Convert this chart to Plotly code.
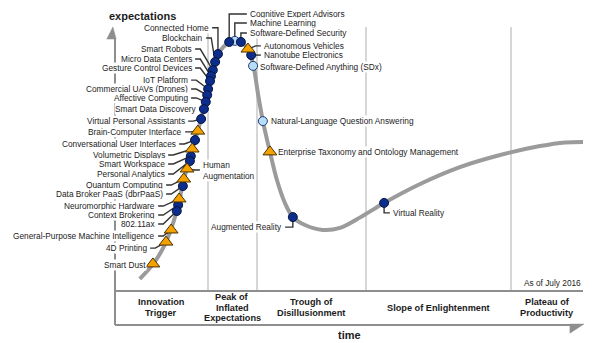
import plotly.graph_objects as go

# ---------------- data (time axis 0-100, expectations axis 0-100) ----------------
curve_time = [5.3, 8.3, 10.9, 13.2, 14.7, 16.5, 18.4, 20.3, 22.0, 24.4, 25.6, 26.9, 28.4,
              29.5, 30.6, 31.6, 33.1, 34.6, 36.3, 38.0, 40.6, 44.4, 48.1, 52.4, 57.5, 65.2,
              73.7, 82.3, 90.8, 96.2, 100.0]
curve_expect = [4.6, 10.6, 18.6, 30.4, 42.2, 53.8, 65.4, 79.8, 90.1, 94.7, 95.1, 94.7, 92.0,
                86.3, 74.5, 64.6, 52.9, 42.2, 33.5, 28.1, 25.1, 23.2, 24.0, 28.0, 33.5, 40.7,
                47.1, 51.7, 55.1, 56.5, 56.7]

tech_names = ["Connected Home", "Blockchain", "Smart Robots", "Micro Data Centers",
              "Gesture Control Devices", "IoT Platform", "Commercial UAVs (Drones)",
              "Affective Computing", "Smart Data Discovery", "Virtual Personal Assistants",
              "Brain-Computer Interface", "Conversational User Interfaces", "Volumetric Displays",
              "Smart Workspace", "Personal Analytics", "Human Augmentation", "Quantum Computing",
              "Data Broker PaaS (dbrPaaS)", "Neuromorphic Hardware", "Context Brokering",
              "802.11ax", "General-Purpose Machine Intelligence", "4D Printing", "Smart Dust",
              "Cognitive Expert Advisors", "Machine Learning", "Software-Defined Security",
              "Autonomous Vehicles", "Nanotube Electronics", "Software-Defined Anything (SDx)",
              "Natural-Language Question Answering",
              "Enterprise Taxonomy and Ontology Management", "Augmented Reality",
              "Virtual Reality"]
tech_time = [22.0, 21.4, 20.9, 20.5, 20.3, 19.9, 19.7, 19.4, 19.0, 18.4, 17.7, 17.1, 16.5,
             16.2, 16.0, 15.4, 14.7, 14.5, 13.7, 13.5, 13.2, 12.0, 10.9, 8.1, 24.4, 25.6,
             26.9, 28.4, 29.1, 29.5, 31.6, 33.1, 38.0, 57.5]
tech_expect = [90.1, 87.1, 84.0, 81.7, 79.8, 76.8, 74.5, 71.9, 69.2, 65.4, 60.8, 57.4, 54.0,
               51.3, 49.4, 46.4, 42.6, 39.9, 35.0, 32.7, 30.4, 23.2, 18.6, 10.3, 94.7, 95.1,
               94.7, 92.0, 89.7, 85.6, 64.6, 52.9, 28.1, 33.5]
# years to plateau
tech_class = ["5-10", "5-10", "5-10", "5-10", "5-10", "5-10", "5-10", "5-10", "5-10", "5-10",
              ">10", "5-10", ">10", "5-10", "5-10", ">10", ">10", "5-10", ">10", "5-10",
              "5-10", ">10", ">10", ">10", "5-10", "2-5", "5-10", ">10", "5-10", "2-5",
              "2-5", ">10", "5-10", "5-10"]

# label placement (same axis units), side and leader style
label_time = [20.30, 19.02, 16.67, 16.67, 16.67, 15.81, 15.81, 15.81, 17.74, 15.17, 14.53,
              13.25, 10.90, 10.90, 10.90, 18.59, 10.47, 10.47, 8.76, 8.76, 8.76, 8.76, 7.05,
              6.84, 28.63, 28.63, 28.63, 31.62, 31.62, 30.77, 33.12, 34.62, 35.90, 59.19]
label_expect = [100.1, 96.2, 92.0, 88.2, 84.8, 80.2, 76.8, 73.4, 69.2, 64.6, 60.5, 55.9,
                51.7, 48.3, 44.5, 46.0, 40.3, 36.9, 32.3, 28.9, 25.5, 20.9, 16.3, 9.9, 105.3,
                101.9, 98.1, 93.2, 89.7, 85.2, 64.6, 52.9, 24.3, 29.7]
label_side = ["L"] * 15 + ["R"] + ["L"] * 8 + ["R"] * 8 + ["L", "R"]
leader_style = ["elbow", "diag", "diag", "diag", "diag", "diag", "diag", "diag", "none",
                "diag", "diag", "diag", "diag", "diag", "diag", "diag", "diag", "diag", "diag",
                "diag", "diag", "diag", "diag", "none", "elbow", "elbow", "elbow", "diag",
                "diag", "none", "none", "none", "elbow", "elbow"]
label_wrap = {"Human Augmentation": "Human<br>Augmentation"}

phase_names = [["Innovation", "Trigger"], ["Peak of", "Inflated", "Expectations"],
               ["Trough of", "Disillusionment"], ["Slope of Enlightenment"],
               ["Plateau of", "Productivity"]]
phase_edges = [0, 19.87, 30.34, 53.63, 84.62, 100]

# ---------------- styling ----------------
FONT = "Arial, Liberation Sans, sans-serif"
TXT = "#1c1c1c"
AXIS = "#8e8e8e"
DIV = "#d6d6d6"
BAND_BOTTOM = -12.93
TOP = 100.4
GAP, DASH = 0.45, 1.1

fig = go.Figure()

shapes = []
# phase dividers
for t in phase_edges[1:-1]:
    shapes.append(dict(type="line", xref="x", yref="y", x0=t, x1=t, y0=0, y1=TOP,
                       line=dict(color=DIV, width=2), layer="below"))
# axes
shapes.append(dict(type="line", xref="x", yref="y", x0=0, x1=0, y0=BAND_BOTTOM, y1=96.0,
                   line=dict(color=AXIS, width=2), layer="below"))
shapes.append(dict(type="line", xref="x", yref="y", x0=0, x1=100, y0=0, y1=0,
                   line=dict(color=AXIS, width=2), layer="below"))
shapes.append(dict(type="line", xref="x", yref="y", x0=0, x1=97.4, y0=BAND_BOTTOM,
                   y1=BAND_BOTTOM, line=dict(color=AXIS, width=2), layer="below"))
shapes.append(dict(type="path", xref="x", yref="y",
                   path=f"M 97.2 {BAND_BOTTOM + 0.35} L 100.2 {BAND_BOTTOM + 0.35} L 97.2 {BAND_BOTTOM - 3.1} Z",
                   fillcolor=AXIS, line=dict(color=AXIS, width=0.5), layer="below"))
shapes.append(dict(type="path", xref="x", yref="y",
                   path="M 0.25 95.8 L -1.75 95.8 L -0.45 100.4 Z",
                   fillcolor=AXIS, line=dict(color=AXIS, width=0.5), layer="below"))

# hype curve
fig.add_trace(go.Scatter(x=curve_time, y=curve_expect, mode="lines",
                         line=dict(color="#9b9b9b", width=4, shape="spline", smoothing=0.9),
                         hoverinfo="skip"))

# leader lines
lx_all, ly_all = [], []
for i in range(len(tech_names)):
    st = leader_style[i]
    if st == "none":
        continue
    sgn = 1 if label_side[i] == "L" else -1
    x0 = label_time[i] + sgn * GAP
    y0 = label_expect[i]
    if st == "elbow":
        pts = [(x0, y0), (tech_time[i], y0), (tech_time[i], tech_expect[i])]
    else:
        pts = [(x0, y0), (x0 + sgn * DASH, y0), (tech_time[i], tech_expect[i])]
    for p in pts:
        lx_all.append(p[0]); ly_all.append(p[1])
    lx_all.append(None); ly_all.append(None)
fig.add_trace(go.Scatter(x=lx_all, y=ly_all, mode="lines",
                         line=dict(color="#333333", width=1.4), hoverinfo="skip"))

# markers by class
marker_style = {
    "2-5": dict(symbol="circle", size=9, color="#b8ddf8", line=dict(color="#1d3f7a", width=1)),
    "5-10": dict(symbol="circle", size=9, color="#0c2d8c", line=dict(color="#07163f", width=1)),
    ">10": dict(symbol="triangle-up", size=12, color="#f5a100", line=dict(color="#4a3200", width=1)),
}
for cls, ms in marker_style.items():
    idx = [i for i, c in enumerate(tech_class) if c == cls]
    fig.add_trace(go.Scatter(x=[tech_time[i] for i in idx], y=[tech_expect[i] for i in idx],
                             mode="markers", marker=ms, name=cls, hoverinfo="skip"))

annotations = []
for i, name in enumerate(tech_names):
    text = label_wrap.get(name, name)
    annotations.append(dict(x=label_time[i], y=label_expect[i], xref="x", yref="y",
                            text=text, showarrow=False,
                            xanchor="right" if label_side[i] == "L" else "left",
                            yanchor="middle", align="left",
                            font=dict(family=FONT, size=8.3, color=TXT),
                            bgcolor="white", borderpad=0))

# phase labels
LINE = 4.1
for k, lines in enumerate(phase_names):
    cx = (phase_edges[k] + phase_edges[k + 1]) / 2
    n = len(lines)
    for j, ln in enumerate(lines):
        cy = -6.27 + ((n - 1) / 2 - j) * LINE
        annotations.append(dict(x=cx, y=cy, xref="x", yref="y", text=f"<b>{ln}</b>",
                                showarrow=False, xanchor="center", yanchor="middle",
                                font=dict(family=FONT, size=9.2, color=TXT)))

annotations.append(dict(x=5.98, y=104.4, xref="x", yref="y", text="<b>expectations</b>",
                        showarrow=False, xanchor="center", yanchor="middle",
                        font=dict(family=FONT, size=11, color=TXT)))
annotations.append(dict(x=50.0, y=-16.7, xref="x", yref="y", text="<b>time</b>",
                        showarrow=False, xanchor="center", yanchor="middle",
                        font=dict(family=FONT, size=11, color=TXT)))
annotations.append(dict(x=100.0, y=3.04, xref="x", yref="y", text="As of July 2016",
                        showarrow=False, xanchor="right", yanchor="middle",
                        font=dict(family=FONT, size=8.3, color=TXT)))

fig.update_layout(
    width=600, height=343, margin=dict(l=0, r=0, t=0, b=0),
    paper_bgcolor="white", plot_bgcolor="white", showlegend=False,
    xaxis=dict(range=[-24.57, 103.63], visible=False, fixedrange=True),
    yaxis=dict(range=[-19.77, 110.65], visible=False, fixedrange=True),
    shapes=shapes, annotations=annotations,
)

fig.write_html("out.html", config={"displayModeBar": False})
